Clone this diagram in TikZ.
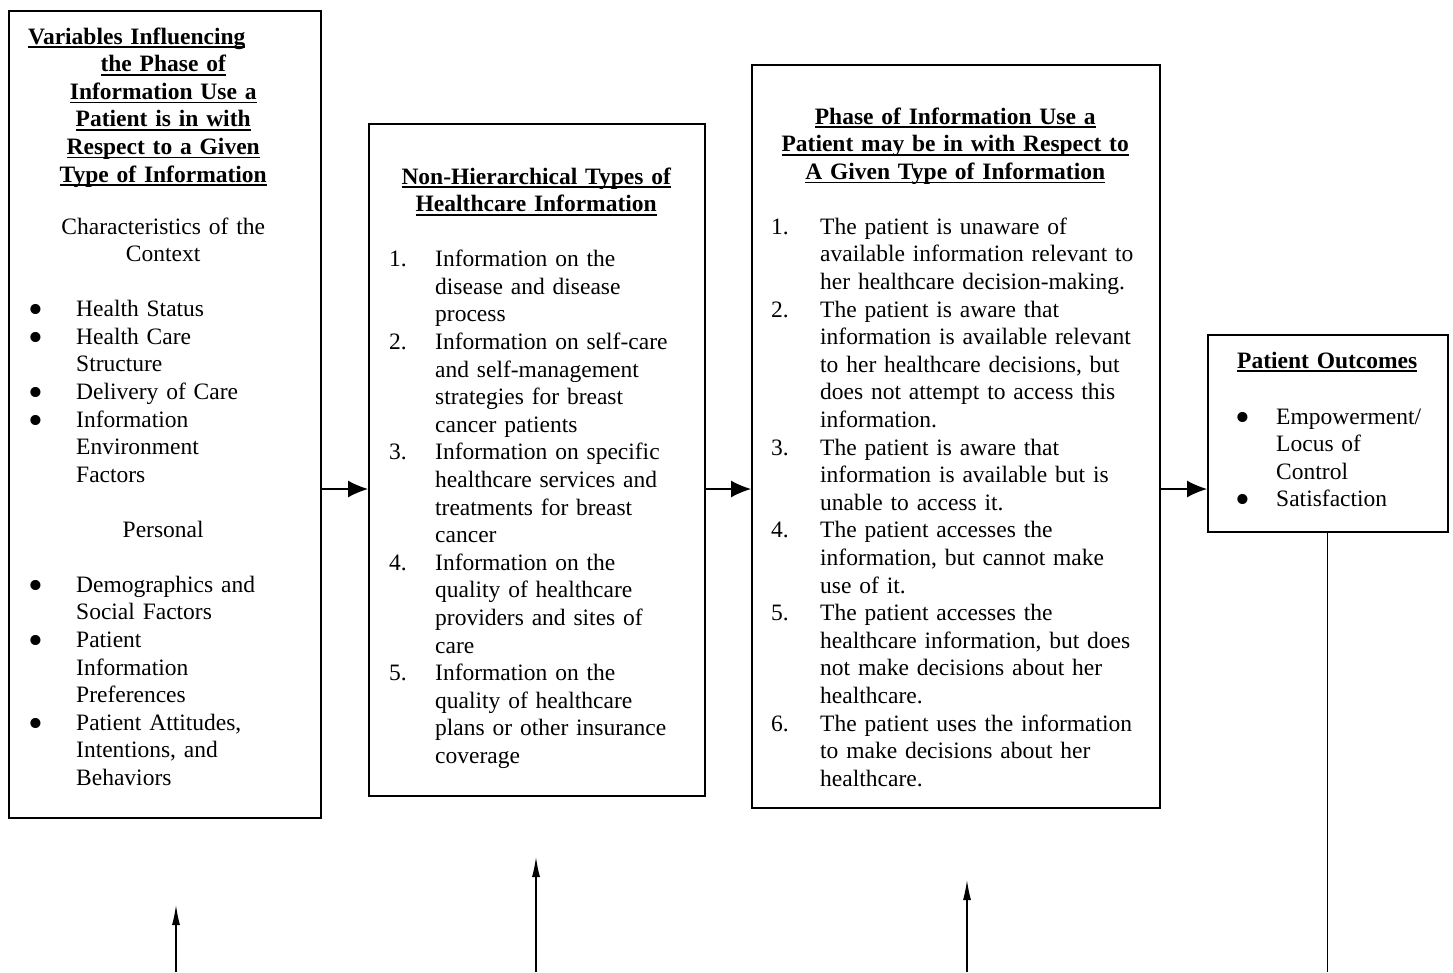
\documentclass[tikz,border=0pt]{standalone}
\usepackage{fontspec}
\usepackage{graphicx}
\setmainfont{Liberation Serif}
\usetikzlibrary{arrows.meta, positioning}

% underline at a fixed depth, as in the original
\newcommand{\undl}[1]{\leavevmode\setbox0=\hbox{#1}\rlap{\rule[-4pt]{\wd0}{1.6pt}}\box0}
% larger bullet
\newcommand{\bul}{\raisebox{-7pt}[0pt][0pt]{\scalebox{1.8}{\textbullet}}}
% list entry with a hanging indent: width, label, text
\newcommand{\litem}[3]{\par\hangindent=#1\hangafter=1\noindent\makebox[#1][l]{#2}#3\par}

\begin{document}
\begin{tikzpicture}[x=1pt, y=1pt,
    panel/.style={draw, line width=1.5pt, inner sep=0pt, anchor=north west},
    boxtext/.style={anchor=base west, inner sep=0pt, align=left,
                    font=\fontsize{23.5}{27.6}\selectfont},
    flowarrow/.style={line width=1.2pt, -{Latex[length=20pt,width=17pt]}},
    feedarrow/.style={line width=1.2pt, -{Latex[length=20pt,width=8pt]}}]

    \useasboundingbox (0,0) rectangle (1453,-972);

    % 1. The four boxes
    \node[panel, minimum width=312, minimum height=807] (vars)  at (8,-10) {};
    \node[panel, minimum width=336, minimum height=672] (types) at (368,-123) {};
    \node[panel, minimum width=408, minimum height=743] (phase) at (751,-64) {};
    \node[panel, minimum width=240, minimum height=197] (outc)  at (1207,-334) {};

    % 2. Text of the first box
    \node[boxtext, text width=270pt] (varstxt) at (28,-44) {%
      \textbf{\undl{Variables Influencing}}\par
      {\centering\bfseries \undl{the Phase of}\\ \undl{Information Use a}\\
       \undl{Patient is in with}\\ \undl{Respect to a Given}\\
       \undl{Type of Information}\par}
      \vspace{24.4pt}
      {\centering Characteristics of the\\ Context\par}
      \vspace{27.4pt}
      \litem{48pt}{\bul}{Health Status}
      \litem{48pt}{\bul}{Health Care\newline Structure}
      \litem{48pt}{\bul}{Delivery of Care}
      \litem{48pt}{\bul}{Information\newline Environment\newline Factors}
      \vspace{27.4pt}
      {\centering Personal\par}
      \vspace{27.4pt}
      \litem{48pt}{\bul}{Demographics and\newline Social Factors}
      \litem{48pt}{\bul}{Patient\newline Information\newline Preferences}
      \litem{48pt}{\bul}{Patient Attitudes,\newline Intentions, and\newline Behaviors}};

    % 3. Text of the second box
    \node[boxtext, text width=294pt] (typestxt) at (389,-184) {%
      {\centering\bfseries \undl{Non-Hierarchical Types of}\\
       \undl{Healthcare Information}\par}
      \vspace{27.4pt}
      \litem{46pt}{1.}{Information on the\newline disease and disease\newline process}
      \litem{46pt}{2.}{Information on self-care\newline and self-management\newline strategies for breast\newline cancer patients}
      \litem{46pt}{3.}{Information on specific\newline healthcare services and\newline treatments for breast\newline cancer}
      \litem{46pt}{4.}{Information on the\newline quality of healthcare\newline providers and sites of\newline care}
      \litem{46pt}{5.}{Information on the\newline quality of healthcare\newline plans or other insurance\newline coverage}};

    % 4. Text of the third box
    \node[boxtext, text width=368pt] (phasetxt) at (771,-124) {%
      {\centering\bfseries \undl{Phase of Information Use a}\\
       \undl{Patient may be in with Respect to}\\
       \undl{A Given Type of Information}\par}
      \vspace{27.4pt}
      \litem{49pt}{1.}{The patient is unaware of\newline available information relevant to\newline her healthcare decision-making.}
      \litem{49pt}{2.}{The patient is aware that\newline information is available relevant\newline to her healthcare decisions, but\newline does not attempt to access this\newline information.}
      \litem{49pt}{3.}{The patient is aware that\newline information is available but is\newline unable to access it.}
      \litem{49pt}{4.}{The patient accesses the\newline information, but cannot make\newline use of it.}
      \litem{49pt}{5.}{The patient accesses the\newline healthcare information, but does\newline not make decisions about her\newline healthcare.}
      \litem{49pt}{6.}{The patient uses the information\newline to make decisions about her\newline healthcare.}};

    % 5. Text of the fourth box
    \node[boxtext, text width=184pt] (outctxt) at (1235,-368) {%
      {\centering\bfseries \undl{Patient Outcomes}\par}
      \vspace{28.4pt}
      \litem{41pt}{\bul}{Empowerment/\newline Locus of\newline Control}
      \litem{41pt}{\bul}{Satisfaction}};

    % 6. Arrows between the boxes
    \coordinate (flow) at (0,-489);
    \draw[flowarrow] (vars.east |- flow)  -- (types.west |- flow);
    \draw[flowarrow] (types.east |- flow) -- (phase.west |- flow);
    \draw[flowarrow] (phase.east |- flow) -- (outc.west |- flow);

    % 7. Feedback arrows coming up from the bottom
    \coordinate (bottom) at (0,-972);
    \coordinate (tipA) at (176,-905);
    \coordinate (tipB) at (536,-857);
    \coordinate (tipC) at (967,-880);
    \draw[feedarrow] (tipA |- bottom) -- (tipA);
    \draw[feedarrow] (tipB |- bottom) -- (tipB);
    \draw[feedarrow] (tipC |- bottom) -- (tipC);
    \draw[line width=1.2pt] (outc.south) -- (outc.south |- bottom);

\end{tikzpicture}
\end{document}
